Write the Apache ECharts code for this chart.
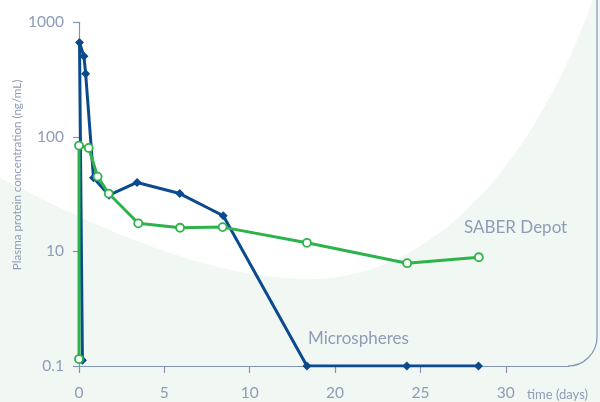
<!DOCTYPE html>
<html>
<head>
<meta charset="utf-8">
<script src="https://cdn.jsdelivr.net/npm/echarts@6/dist/echarts.min.js"></script>
<style>
html,body{margin:0;padding:0;background:#f1f7f2;}
#chart{width:600px;height:402px;}
</style>
</head>
<body>
<div id="chart"></div>
<script>
// x values are in axis-position units (tick spacing 5); tick labels come from xTickLabels
const xTickLabels = ['0', '5', '10', '20', '25', '30'];
// log axis ticks at 1, 10, 100, 1000 shown with these labels
const yTickLabels = ['0.1', '10', '100', '1000'];

const microspheresX = [0.2, 0.03, 0.29, 0.39, 0.85, 1.76, 3.4, 5.9, 8.45, 13.35, 19.2, 23.4];
const microspheresY = [1.12, 665, 505, 355, 44, 31, 40, 32, 20.5, 1, 1, 1];

const saberX = [0, 0, 0.57, 1.09, 1.74, 3.47, 5.92, 8.41, 13.35, 19.22, 23.42];
const saberY = [1.15, 84, 80, 45, 32, 17.6, 16.1, 16.3, 11.9, 7.9, 8.9];

const seriesNames = ['Microspheres', 'SABER Depot'];
const axisNameY = 'Plasma protein concentration (ng/mL)';
const axisNameX = 'time (days)';

const blue = '#0c4a8e';
const green = '#2db34b';
const textCol = '#8e9cb8';
const axisCol = '#8294b4';

// decorative white backdrop shape (sampled cubic curves)
function cubic(p0, p1, p2, p3, n) {
  const out = [];
  for (let k = 0; k <= n; k++) {
    const t = k / n, u = 1 - t;
    out.push([
      u*u*u*p0[0] + 3*u*u*t*p1[0] + 3*u*t*t*p2[0] + t*t*t*p3[0],
      u*u*u*p0[1] + 3*u*u*t*p1[1] + 3*u*t*t*p2[1] + t*t*t*p3[1]
    ]);
  }
  return out;
}
const backdrop = [[0, 0]]
  .concat(cubic([0, 178], [120, 240], [220, 279], [310, 279], 40))
  .concat(cubic([310, 279], [410, 279], [520, 200], [593, 0], 40));

const chart = echarts.init(document.getElementById('chart'), null, {renderer: 'canvas'});
chart.setOption({
  backgroundColor: '#f1f7f2',
  animation: false,
  grid: {left: 79, right: 31, top: 22.3, bottom: 36, containLabel: false, outerBoundsMode: 'none'},
  xAxis: {
    type: 'value', min: 0, max: 28.7, interval: 5,
    axisLine: {show: true, lineStyle: {color: axisCol, width: 1.2}},
    axisTick: {show: true, length: 7, lineStyle: {color: axisCol, width: 1.2}},
    splitLine: {show: false},
    axisLabel: {
      color: textCol, fontFamily: 'Lato', fontSize: 15.5, margin: 19,
      showMaxLabel: false,
      formatter: v => { const i = Math.round(v / 5); return (Math.abs(v - i*5) < 1e-6 && xTickLabels[i] !== undefined) ? xTickLabels[i] : ''; }
    }
  },
  yAxis: {
    type: 'log', logBase: 10, min: 1, max: 1000,
    axisLine: {show: true, lineStyle: {color: axisCol, width: 1.2}},
    axisTick: {show: true, length: 6, lineStyle: {color: axisCol, width: 1.2}},
    minorTick: {show: false},
    splitLine: {show: false},
    axisLabel: {
      color: textCol, fontFamily: 'Lato', fontSize: 15.5, margin: 15,
      formatter: v => yTickLabels[Math.round(Math.log10(v))]
    }
  },
  graphic: [
    {type: 'polygon', z: -10, silent: true,
      shape: {points: backdrop},
      style: {fill: '#ffffff'}},
    {type: 'arc', z: 5, silent: true,
      shape: {cx: 568, cy: 337, r: 29, startAngle: 0, endAngle: Math.PI / 2},
      style: {fill: null, stroke: axisCol, lineWidth: 1.2}},
    {type: 'line', z: 5, silent: true,
      shape: {x1: 597, y1: 337, x2: 597, y2: 0},
      style: {stroke: axisCol, lineWidth: 1.2}},
    {type: 'text', z: 5, silent: true, x: 17, y: 175, rotation: Math.PI / 2,
      style: {text: axisNameY, fill: textCol, font: '11.6px Lato', align: 'center', verticalAlign: 'middle'}},
    {type: 'text', z: 5, silent: true, x: 527, y: 395,
      style: {text: axisNameX, fill: textCol, font: '13px Lato', align: 'left', verticalAlign: 'middle'}},
    {type: 'text', z: 5, silent: true, x: 464, y: 228,
      style: {text: seriesNames[1], fill: textCol, font: '17px Lato', align: 'left', verticalAlign: 'middle'}},
    {type: 'text', z: 5, silent: true, x: 308, y: 338.5,
      style: {text: seriesNames[0], fill: textCol, font: '17px Lato', align: 'left', verticalAlign: 'middle'}}
  ],
  series: [
    {
      name: seriesNames[1], type: 'line', z: 3,
      data: saberX.map((x, i) => [x, saberY[i]]),
      symbol: 'circle', symbolSize: 8,
      itemStyle: {color: '#ffffff', borderColor: green, borderWidth: 1.8},
      lineStyle: {color: green, width: 3}
    },
    {
      name: seriesNames[0], type: 'line', z: 2,
      data: microspheresX.map((x, i) => [x, microspheresY[i]]),
      symbol: 'diamond', symbolSize: 9,
      itemStyle: {color: blue},
      lineStyle: {color: blue, width: 3}
    }
  ]
});
</script>
</body>
</html>
